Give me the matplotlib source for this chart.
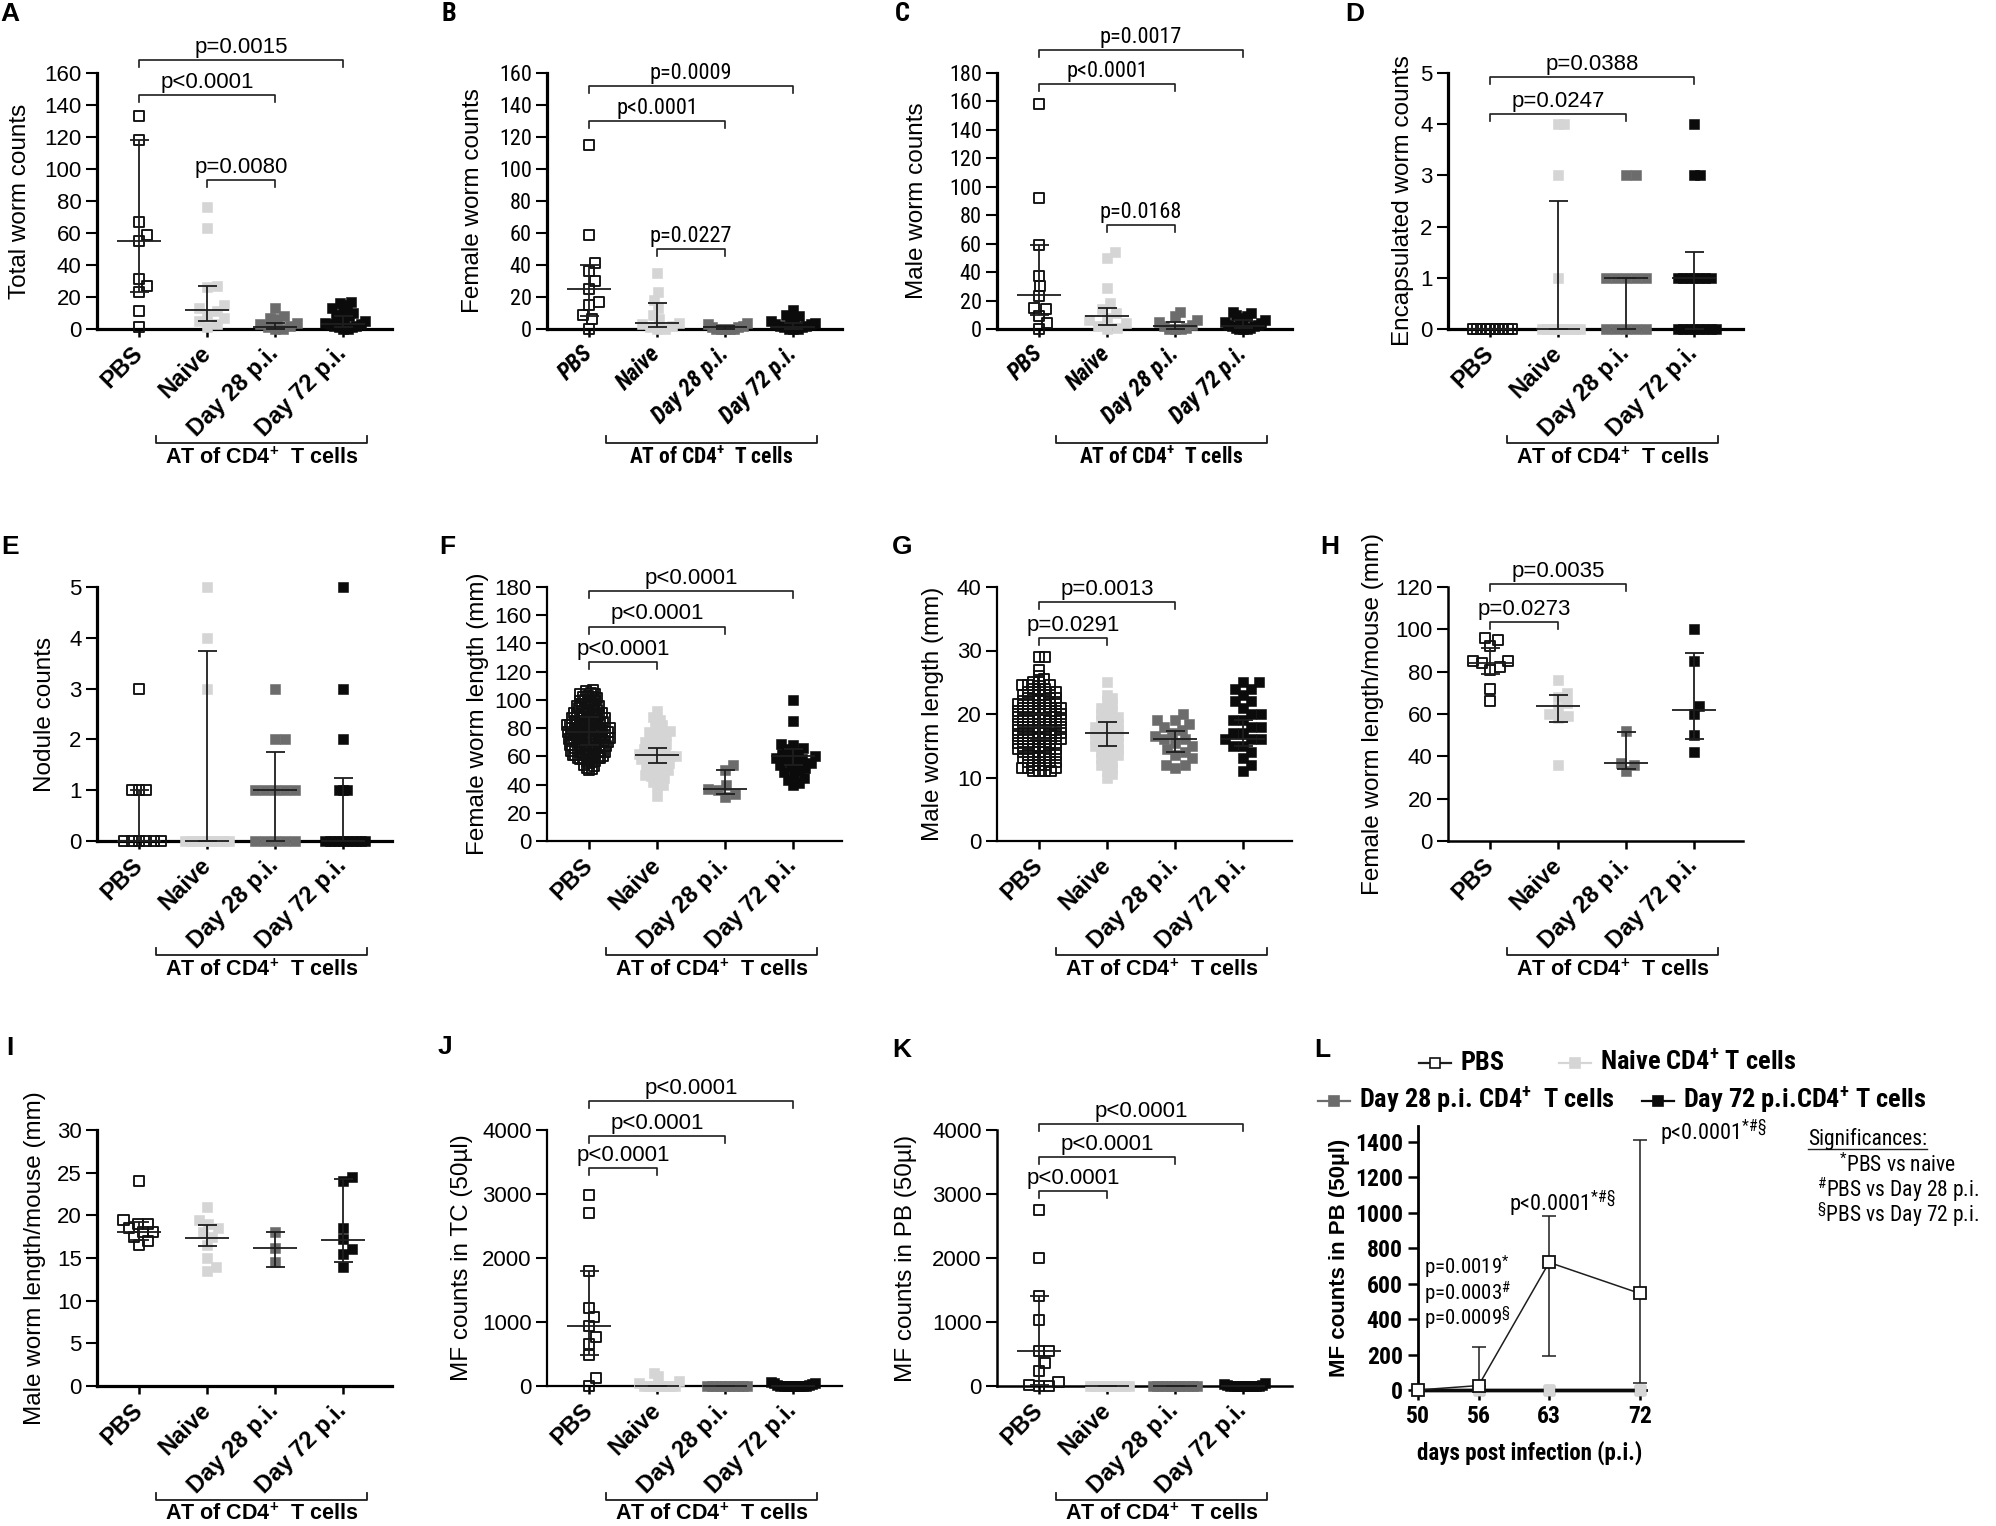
import numpy as np
import matplotlib
matplotlib.use('Agg')
import matplotlib.pyplot as plt
from matplotlib.lines import Line2D
from matplotlib.ticker import FormatStrFormatter
from matplotlib import font_manager

_fl = font_manager.fontManager.ttflist
_names = {f.name for f in _fl}
REG = 'Liberation Sans' if 'Liberation Sans' in _names else 'DejaVu Sans'


def pick_narrow():
    for nm in ['Liberation Sans Narrow', 'Arial Narrow', 'Nimbus Sans Narrow',
               'Roboto Condensed', 'Archivo Narrow', 'DejaVu Sans Condensed',
               'Noto Sans Condensed', 'Open Sans Condensed']:
        if nm in _names:
            return dict(family=nm)
    for fam in ['Liberation Sans', 'Noto Sans', 'Open Sans', 'Roboto', 'Inter', 'Lato',
                'DejaVu Sans']:
        c = [f for f in _fl if f.name == fam and 'condensed' in str(f.stretch)]
        if c:
            return dict(family=fam, stretch='condensed')
    return dict(family=REG)


NARKW = pick_narrow()
plt.rcParams['font.family'] = [REG, 'DejaVu Sans']
plt.rcParams['mathtext.default'] = 'regular'

# ---------------- data ----------------
categories = ['PBS', 'Naive', 'Day 28 p.i.', 'Day 72 p.i.']

A_pbs = [133, 118, 67, 59, 55, 31, 27, 23, 11, 1]
A_naive = [76, 63, 27, 26, 15, 13, 11, 9, 7, 5, 3, 1]
A_d28 = [13, 8, 7, 6, 4, 3, 2, 1, 0, 0]
A_d72 = [17, 16, 15, 13, 12, 10, 9, 8, 7, 6, 5, 4, 3, 3, 2, 2, 1, 1, 0, 0]
A_med = [55, 12, 1, 3]
A_lo = [23, 5, 0, 1]
A_hi = [118, 27, 4, 8]
A_pvals = ['p=0.0015', 'p<0.0001', 'p=0.0080']
A_pairs = [(0, 3), (0, 2), (1, 2)]

B_pbs = [115, 59, 41, 36, 30, 25, 17, 15, 9, 6, 0]
B_naive = [35, 23, 18, 13, 9, 6, 4, 3, 2, 1, 0, 0]
B_d28 = [4, 3, 2, 1, 1, 0, 0, 0, 0, 0]
B_d72 = [12, 9, 8, 7, 6, 5, 4, 3, 3, 2, 2, 1, 1, 0, 0, 0]
B_med = [25, 3.5, 1, 1]
B_lo = [8, 1, 0, 0]
B_hi = [40, 16, 2, 4]
B_pvals = ['p=0.0009', 'p<0.0001', 'p=0.0227']
B_pairs = [(0, 3), (0, 2), (1, 2)]

C_pbs = [158, 92, 59, 37, 30, 23, 15, 14, 9, 4, 0]
C_naive = [54, 50, 29, 18, 14, 11, 8, 6, 4, 2, 1, 0]
C_d28 = [12, 9, 6, 5, 3, 2, 1, 0, 0, 0]
C_d72 = [12, 11, 10, 9, 8, 7, 6, 5, 4, 3, 3, 2, 2, 1, 1, 0, 0, 0]
C_med = [24, 9, 2, 2]
C_lo = [10, 3, 0, 1]
C_hi = [59, 15, 5, 6]
C_pvals = ['p=0.0017', 'p<0.0001', 'p=0.0168']
C_pairs = [(0, 3), (0, 2), (1, 2)]

D_pbs = [0, 0, 0, 0, 0, 0, 0, 0, 0, 0]
D_naive = [4, 4, 3, 1, 0, 0, 0, 0, 0, 0, 0, 0]
D_d28 = [3, 3, 1, 1, 1, 1, 1, 0, 0, 0, 0, 0]
D_d72 = [4, 3, 3, 1, 1, 1, 1, 1, 1, 1, 0, 0, 0, 0, 0, 0, 0, 0]
D_med = [0, 0, 1, 1]
D_lo = [0, 0, 0, 0]
D_hi = [0, 2.5, 1, 1.5]
D_pvals = ['p=0.0388', 'p=0.0247']
D_pairs = [(0, 3), (0, 2)]

E_pbs = [3, 1, 1, 1, 0, 0, 0, 0, 0, 0]
E_naive = [5, 4, 3, 0, 0, 0, 0, 0, 0, 0, 0, 0]
E_d28 = [3, 2, 2, 1, 1, 1, 1, 1, 0, 0, 0, 0, 0]
E_d72 = [5, 3, 2, 1, 1, 1, 0, 0, 0, 0, 0, 0, 0, 0, 0, 0]
E_med = [0, 0, 1, 0]
E_lo = [0, 0, 0, 0]
E_hi = [1, 3.75, 1.75, 1.25]

F_pbs = [107, 106, 105, 104, 104, 103, 102, 102, 101, 100, 100, 99, 99, 98, 97, 97, 96,
         96, 95, 95, 94, 94, 93, 93, 92, 92, 91, 91, 90, 90, 90, 89, 89, 88, 88, 88, 87,
         87, 87, 86, 86, 85, 85, 85, 84, 84, 84, 83, 83, 83, 82, 82, 82, 81, 81, 81, 80,
         80, 80, 80, 79, 79, 79, 78, 78, 78, 78, 77, 77, 77, 76, 76, 76, 76, 75, 75, 75,
         74, 74, 74, 74, 73, 73, 73, 72, 72, 72, 72, 71, 71, 71, 70, 70, 70, 70, 69, 69,
         69, 68, 68, 68, 67, 67, 67, 66, 66, 66, 65, 65, 65, 64, 64, 64, 63, 63, 63, 62,
         62, 61, 61, 61, 60, 60, 60, 59, 59, 59, 58, 58, 57, 57, 56, 55, 54, 53, 52, 51, 50]
F_naive = [92, 88, 86, 84, 82, 80, 78, 77, 76, 75, 74, 72, 71, 70, 69, 68, 67, 66, 65,
           64, 63, 62, 62, 61, 60, 60, 59, 58, 58, 57, 56, 55, 54, 53, 52, 51, 50, 49,
           48, 47, 46, 45, 44, 42, 40, 39, 32]
F_d28 = [54, 50, 40, 37, 36, 33, 31]
F_d72 = [100, 85, 69, 68, 66, 65, 63, 62, 61, 60, 59, 58, 57, 56, 55, 54, 53, 52, 50,
         49, 47, 45, 43, 41, 40]
F_med = [77, 61, 37, 60]
F_lo = [68, 55, 33, 54]
F_hi = [88, 66, 50, 65]
F_pvals = ['p<0.0001', 'p<0.0001', 'p<0.0001']
F_pairs = [(0, 3), (0, 2), (0, 1)]

G_pbs = [29, 29, 27, 26, 25.5, 25, 25, 24.5, 24.5, 24.5, 24, 24, 24, 23.5, 23.5, 23.5, 23,
         23, 23, 23, 22.5, 22.5, 22.5, 22, 22, 22, 22, 21.5, 21.5, 21.5, 21.5, 21, 21,
         21, 21, 21, 20.5, 20.5, 20.5, 20.5, 20, 20, 20, 20, 20, 19.5, 19.5, 19.5, 19.5,
         19, 19, 19, 19, 19, 18.5, 18.5, 18.5, 18.5, 18, 18, 18, 18, 18, 17.5, 17.5, 17.5,
         17.5, 17, 17, 17, 17, 17, 16.5, 16.5, 16.5, 16.5, 16, 16, 16, 16, 16, 15.5, 15.5,
         15.5, 15.5, 15, 15, 15, 15, 14.5, 14.5, 14.5, 14.5, 14, 14, 14, 14, 13.5, 13.5,
         13.5, 13, 13, 13, 13, 12.5, 12.5, 12.5, 12, 12, 12, 11.5, 11.5, 11.5, 11, 11, 11, 11]
G_naive = [25, 23, 22.5, 22, 21.5, 21, 21, 20.5, 20, 20, 19.5, 19.5, 19, 19, 18.5, 18.5,
           18, 18, 18, 17.5, 17.5, 17, 17, 17, 16.5, 16.5, 16, 16, 16, 15.5, 15.5, 15,
           15, 15, 14.5, 14.5, 14, 14, 13.5, 13.5, 13, 13, 12.5, 12, 12, 11.5, 11, 10.5, 10]
G_d28 = [20, 19, 19, 18.5, 18, 17.5, 17, 16.5, 16, 16, 15.5, 15, 14.5, 14, 13.5, 13, 12,
         12, 11.5]
G_d72 = [25, 25, 24, 24, 23, 22, 22, 21, 20, 20, 19, 19, 18, 18, 17, 17, 16, 16, 16, 15,
         15, 14, 13, 12, 11]
G_med = [18, 17, 16, 16]
G_lo = [16, 15, 14, 15]
G_hi = [20, 18.7, 17.3, 19]
G_pvals = ['p=0.0013', 'p=0.0291']
G_pairs = [(0, 2), (0, 1)]

H_pbs = [96, 95, 92, 85, 85, 84, 82, 81, 72, 66]
H_naive = [76, 70, 68, 65, 63, 60, 59, 58, 36]
H_d28 = [52, 37, 36, 33]
H_d72 = [100, 85, 64, 60, 50, 42]
H_med = [84, 64, 37, 62]
H_lo = [79, 56, 34, 48]
H_hi = [91, 69, 51.5, 89]
H_pvals = ['p=0.0035', 'p=0.0273']
H_pairs = [(0, 2), (0, 1)]

I_pbs = [24, 19.5, 19, 19, 18.5, 18, 18, 17.5, 17, 16.5]
I_naive = [21, 19.5, 19, 18.5, 18, 17.5, 16.5, 15, 14, 13.5]
I_d28 = [18, 16.2, 14.5]
I_d72 = [24.5, 24, 18.5, 17.2, 16, 15.5, 14]
I_med = [18, 17.3, 16.2, 17.1]
I_lo = [17.1, 16.4, 14, 14.5]
I_hi = [19.2, 18.9, 18, 24.2]

J_pbs = [2980, 2700, 1800, 1220, 1080, 940, 770, 650, 480, 120, 0]
J_naive = [210, 150, 80, 40, 0, 0, 0, 0, 0, 0, 0, 0]
J_d28 = [0, 0, 0, 0, 0, 0, 0, 0, 0, 0]
J_d72 = [70, 50, 40, 30, 20, 10, 0, 0, 0, 0, 0, 0, 0, 0, 0]
J_med = [940, 0, 0, 0]
J_lo = [480, 0, 0, 0]
J_hi = [1800, 0, 0, 0]
J_pvals = ['p<0.0001', 'p<0.0001', 'p<0.0001']
J_pairs = [(0, 3), (0, 2), (0, 1)]

K_pbs = [2750, 2000, 1410, 1030, 540, 540, 360, 235, 55, 20, 0, 0]
K_naive = [0, 0, 0, 0, 0, 0, 0, 0, 0, 0]
K_d28 = [0, 0, 0, 0, 0, 0, 0, 0, 0, 0, 0]
K_d72 = [40, 30, 20, 10, 0, 0, 0, 0, 0, 0, 0, 0, 0, 0]
K_med = [540, 0, 0, 0]
K_lo = [10, 0, 0, 0]
K_hi = [1410, 0, 0, 0]
K_pvals = ['p<0.0001', 'p<0.0001', 'p<0.0001']
K_pairs = [(0, 3), (0, 2), (0, 1)]

L_days = [50, 56, 63, 72]
L_pbs = [0, 25, 720, 545]
L_pbs_low = [0, 25, 190, 40]
L_pbs_high = [0, 240, 980, 1410]
L_naive = [0, 0, 0, 0]
L_d28 = [0, 0, 0, 0]
L_d72 = [0, 0, 0, 0]
L_notes = [r'p=0.0019$^{*}$', r'p=0.0003$^{\#}$', r'p=0.0009$^{\S}$',
           r'p<0.0001$^{*\#\S}$', r'p<0.0001$^{*\#\S}$']
L_legend = ['PBS', r'Naive CD4$^{+}$ T cells', r'Day 28 p.i. CD4$^{+}$  T cells',
            r'Day 72 p.i.CD4$^{+}$ T cells']
L_signif = ['Significances:', r'$^{*}$PBS vs naive', r'$^{\#}$PBS vs Day 28 p.i.',
            r'$^{\S}$PBS vs Day 72 p.i.']

# ---------------- styles / layout ----------------
W, H = 1996, 1526
fig = plt.figure(figsize=(W / 100, H / 100), dpi=100)
fig.patch.set_facecolor('white')
RND = fig.canvas.get_renderer()

C_NAIVE = '#d5d5d5'
C_D28 = '#6c6c6c'
C_D72 = '#0b0b0b'
GROUP_STYLE = [dict(facecolors='none', edgecolors='#111111', linewidths=1.35),
               dict(facecolors=C_NAIVE, edgecolors=C_NAIVE, linewidths=0.4),
               dict(facecolors=C_D28, edgecolors=C_D28, linewidths=0.4),
               dict(facecolors=C_D72, edgecolors=C_D72, linewidths=0.4)]

COL_X = [97, 547, 997, 1448]
ROWS = [(73, 329), (587, 841), (1130, 1386)]
AX_W = 295
XLIM = (-0.62, 3.72)
FREG = dict(family=REG)


def px_axes(left, top, right, zero):
    return fig.add_axes([left / W, 1 - zero / H, (right - left) / W, (zero - top) / H])


def swarm(vals, ypx, d, maxw):
    v = np.asarray(vals, float)
    ys = v * ypx
    order = np.argsort(v, kind='stable')
    xs = np.zeros(len(v))
    pxl, pyl = [], []
    for i in order:
        y = ys[i]
        if pxl:
            PX = np.array(pxl)
            PY = np.array(pyl)
            dy = y - PY
            near = np.abs(dy) < d
            dx = np.sqrt(np.maximum(d * d - dy[near] ** 2, 0))
            cands = np.concatenate([[0.0], PX[near] + dx, PX[near] - dx])
            cands = cands[np.argsort(np.abs(cands), kind='stable')]
            for c in cands:
                if np.all((c - PX[near]) ** 2 + dy[near] ** 2 >= d * d - 1e-6):
                    xs[i] = c
                    break
        pxl.append(xs[i])
        pyl.append(y)
    m = np.abs(xs).max() if len(xs) else 0
    if m > maxw:
        xs = xs * maxw / m
    return xs


def set_font(t, fk):
    t.set_family(fk['family'])
    if 'stretch' in fk:
        t.set_stretch(fk['stretch'])


def cat_panel(col, row, groups, med, lo, hi, ymax, ystep, ylabel, ylx,
              pvals=(), pairs=(), by=(), fk=FREG, italic=False, sw=2.0, dense_d=6):
    left = COL_X[col]
    top, zero = ROWS[row]
    ax = px_axes(left, top, left + AX_W, zero)
    ax.set_xlim(*XLIM)
    ax.set_ylim(0, ymax)
    ypx = (zero - top) / ymax
    xpx = AX_W / (XLIM[1] - XLIM[0])
    for i, vals in enumerate(groups):
        d = 10 if len(vals) <= 25 else dense_d
        offs = swarm(vals, ypx, d, 22)
        ax.scatter(i + offs / xpx, vals, marker='s', s=52, clip_on=False, zorder=3,
                   **GROUP_STYLE[i])
    for i in range(4):
        kw = dict(color='#1e1e1e', lw=1.3, zorder=6, clip_on=False, solid_capstyle='butt')
        ax.plot([i - 0.32, i + 0.32], [med[i], med[i]], **kw)
        ax.plot([i, i], [lo[i], hi[i]], **kw)
        ax.plot([i - 0.14, i + 0.14], [lo[i], lo[i]], **kw)
        ax.plot([i - 0.14, i + 0.14], [hi[i], hi[i]], **kw)
    t = 7 / ypx
    for (a, b), txt, yb in zip(pairs, pvals, by):
        ax.plot([a, a, b, b], [yb - t, yb, yb, yb - t], color='#1e1e1e', lw=1.2,
                clip_on=False, zorder=6)
        ax.annotate(txt, xy=((a + b) / 2, yb), xytext=(0, 1.5), textcoords='offset points',
                    ha='center', va='bottom', fontsize=16, annotation_clip=False, **fk)
    for s in ('top', 'right'):
        ax.spines[s].set_visible(False)
    ax.spines['left'].set_linewidth(sw)
    ax.spines['bottom'].set_linewidth(sw)
    ax.set_yticks(np.arange(0, ymax + 1e-9, ystep))
    ax.yaxis.set_major_formatter(FormatStrFormatter('%g'))
    ax.tick_params(axis='y', length=8, width=1.5, pad=3, labelsize=16)
    for tl in ax.get_yticklabels():
        set_font(tl, fk)
    ax.set_xticks(range(4))
    ax.set_xticklabels(categories, rotation=45, ha='right', va='center',
                       rotation_mode='anchor', fontsize=17, fontweight='bold',
                       style='italic' if italic else 'normal')
    for tl in ax.get_xticklabels():
        set_font(tl, fk)
    ax.tick_params(axis='x', length=6, width=1.8, pad=9)
    hpx = zero - top
    trans = ax.get_xaxis_transform()
    yl = -114 / hpx
    tk = 7 / hpx
    ax.plot([0.25, 0.25, 3.35, 3.35], [yl + tk, yl, yl, yl + tk], transform=trans,
            clip_on=False, color='#1e1e1e', lw=1.3)
    ax.text(1.8, yl - 4 / hpx, r'AT of CD4$^{+}$  T cells', transform=trans, ha='center',
            va='top', fontsize=15.5, fontweight='bold', **fk)
    fig.text(ylx / W, 1 - ((top + zero) / 2) / H, ylabel, rotation=90, ha='center',
             va='center', fontsize=17.5)
    return ax


cat_panel(0, 0, [A_pbs, A_naive, A_d28, A_d72], A_med, A_lo, A_hi, 160, 20,
          'Total worm counts', 20, A_pvals, A_pairs, [168, 146, 93], sw=2.3)
cat_panel(1, 0, [B_pbs, B_naive, B_d28, B_d72], B_med, B_lo, B_hi, 160, 20,
          'Female worm counts', 473, B_pvals, B_pairs, [152, 130, 50], fk=NARKW,
          italic=True, sw=2.3)
cat_panel(2, 0, [C_pbs, C_naive, C_d28, C_d72], C_med, C_lo, C_hi, 180, 20,
          'Male worm counts', 917, C_pvals, C_pairs, [196, 172, 73], fk=NARKW,
          italic=True, sw=2.3)
cat_panel(3, 0, [D_pbs, D_naive, D_d28, D_d72], D_med, D_lo, D_hi, 5, 1,
          'Encapsulated worm counts', 1403, D_pvals, D_pairs, [4.92, 4.2], sw=2.3)
cat_panel(0, 1, [E_pbs, E_naive, E_d28, E_d72], E_med, E_lo, E_hi, 5, 1,
          'Nodule counts', 45, sw=2.3)
cat_panel(1, 1, [F_pbs, F_naive, F_d28, F_d72], F_med, F_lo, F_hi, 180, 20,
          'Female worm length (mm)', 478, F_pvals, F_pairs, [177, 152, 126.5], sw=1.6)
cat_panel(2, 1, [G_pbs, G_naive, G_d28, G_d72], G_med, G_lo, G_hi, 40, 10,
          'Male worm length (mm)', 933, G_pvals, G_pairs, [37.6, 31.9], sw=1.6)
cat_panel(3, 1, [H_pbs, H_naive, H_d28, H_d72], H_med, H_lo, H_hi, 120, 20,
          'Female worm length/mouse (mm)', 1373, H_pvals, H_pairs, [121.5, 103.6], sw=1.8)
cat_panel(0, 2, [I_pbs, I_naive, I_d28, I_d72], I_med, I_lo, I_hi, 30, 5,
          'Male worm length/mouse (mm)', 35, sw=2.3)
cat_panel(1, 2, [J_pbs, J_naive, J_d28, J_d72], J_med, J_lo, J_hi, 4000, 1000,
          'MF counts in TC (50µl)', 462, J_pvals, J_pairs, [4455, 3906, 3399], sw=1.6)
cat_panel(2, 2, [K_pbs, K_naive, K_d28, K_d72], K_med, K_lo, K_hi, 4000, 1000,
          'MF counts in PB (50µl)', 906, K_pvals, K_pairs, [4089, 3582, 3048], sw=1.8)

# ---------------- panel L ----------------
L_left, L_top, L_right, L_zero = 1418, 1126, 1646, 1390
axL = px_axes(L_left, L_top, L_right, L_zero)
axL.set_xlim(50, 72.6)
axL.set_ylim(0, 1490)
axL.plot(L_days, L_naive, color=C_NAIVE, lw=2.5, marker='s', ms=7.5, mfc=C_NAIVE,
         mec=C_NAIVE, clip_on=False, zorder=3)
axL.plot(L_days, L_d28, color=C_D28, lw=2.5, marker='s', ms=7.5, mfc=C_D28, mec=C_D28,
         clip_on=False, zorder=3.1)
axL.plot(L_days, L_d72, color=C_D72, lw=2.5, clip_on=False, zorder=3.2)
axL.plot(L_days, L_naive, ls='none', marker='s', ms=7.5, mfc=C_NAIVE, mec=C_NAIVE,
         clip_on=False, zorder=3.3)
pb = np.array(L_pbs, float)
axL.errorbar(L_days, L_pbs, yerr=[pb - np.array(L_pbs_low), np.array(L_pbs_high) - pb],
             fmt='none', ecolor='#1e1e1e', elinewidth=1.1, capsize=5, capthick=1.1,
             zorder=4, clip_on=False)
axL.plot(L_days, L_pbs, color='#1e1e1e', lw=1.1, marker='s', ms=8, mfc='white',
         mec='#111111', mew=1.3, clip_on=False, zorder=5)
for s in ('top', 'right'):
    axL.spines[s].set_visible(False)
axL.spines['left'].set_linewidth(2.0)
axL.spines['bottom'].set_linewidth(2.0)
axL.set_xticks(L_days)
axL.set_yticks(np.arange(0, 1401, 200))
axL.tick_params(axis='both', length=7, width=1.8, pad=4, labelsize=17)
for tl in axL.get_xticklabels() + axL.get_yticklabels():
    set_font(tl, NARKW)
    tl.set_fontweight('bold')
note_xy = [(50.55, 690), (50.55, 548), (50.55, 406), (59.0, 1048), (74.0, 1450)]
note_sz = [15, 15, 15, 16, 16]
for txt, (x, y), sz in zip(L_notes, note_xy, note_sz):
    axL.text(x, y, txt, ha='left', va='center', fontsize=sz, zorder=7, **NARKW)
fig.text(1530 / W, 1 - 1453 / H, 'days post infection (p.i.)', ha='center', va='center',
         fontsize=16.5, fontweight='bold', **NARKW)
fig.text(1340 / W, 1 - ((L_top + L_zero) / 2) / H, 'MF counts in PB (50µl)', rotation=90,
         ha='center', va='center', fontsize=16, fontweight='bold')


def text_w(txt, size, **kw):
    tt = fig.text(0, 0, txt, fontsize=size, **kw)
    w = tt.get_window_extent(renderer=RND).width
    tt.remove()
    return w


# legend (drawn manually); font size chosen so row 2 spans about 1318 .. 1990 px
LEG_KW = dict(fontweight='bold', **NARKW)
base = 16.0
w1 = text_w(L_legend[2], base, **LEG_KW)
w2 = text_w(L_legend[3], base, **LEG_KW)
avail = (1990 - 1318) - (32 + 9 + 22 + 32 + 9)
leg_size = min(19.0, base * avail / (w1 + w2))
w1 *= leg_size / base
x_m2 = 1318 + 32 + 9 + w1 + 26
leg = [((1419, 1451), 1063, '#1e1e1e', 'white', '#111111', 1461),
       ((1559, 1591), 1063, C_NAIVE, C_NAIVE, C_NAIVE, 1600),
       ((1318, 1350), 1101, C_D28, C_D28, C_D28, 1359),
       ((x_m2, x_m2 + 32), 1101, C_D72, C_D72, C_D72, x_m2 + 41)]
for (x0, x1), y, lc, mfc, mec, tx in leg:
    fig.add_artist(Line2D([x0 / W, x1 / W], [1 - y / H] * 2, transform=fig.transFigure,
                          color=lc, lw=1.6))
    fig.add_artist(Line2D([(x0 + x1) / 2 / W], [1 - y / H], transform=fig.transFigure,
                          ls='none', marker='s', ms=7.5, mfc=mfc, mec=mec, mew=1.2))
for txt, (_, y, _, _, _, tx) in zip(L_legend, leg):
    fig.text(tx / W, 1 - y / H, txt, ha='left', va='center', fontsize=leg_size, **LEG_KW)

# significance key; longest line spans about 1806 .. 1990 px
ws = text_w(L_signif[2], 15, **NARKW)
sig_size = min(15.5, 15 * 184 / ws)
sig_t = fig.text(1808 / W, 1 - 1139 / H, L_signif[0], ha='left', va='center',
                 fontsize=sig_size, **NARKW)
for txt, y in zip(L_signif[1:], [1165, 1190, 1215]):
    fig.text(1898 / W, 1 - y / H, txt, ha='center', va='center', fontsize=sig_size,
             **NARKW)
bb = sig_t.get_window_extent(renderer=RND)
fig.add_artist(Line2D([bb.x0 / W, bb.x1 / W], [(bb.y0 + 1) / H] * 2,
                      transform=fig.transFigure, color='#1e1e1e', lw=1.0))

# panel letters
letters = [('A', 10, 14), ('B', 449, 14), ('C', 902, 14), ('D', 1355, 14),
           ('E', 10, 547), ('F', 447, 547), ('G', 902, 547), ('H', 1330, 547),
           ('I', 10, 1048), ('J', 445, 1047), ('K', 902, 1050), ('L', 1322, 1050)]
for ch, x, y in letters:
    fk = NARKW if ch in 'BC' else FREG
    fig.text(x / W, 1 - y / H, ch, ha='center', va='center', fontsize=19,
             fontweight='bold', **fk)

fig.savefig('out.png', dpi=100, facecolor='white')
